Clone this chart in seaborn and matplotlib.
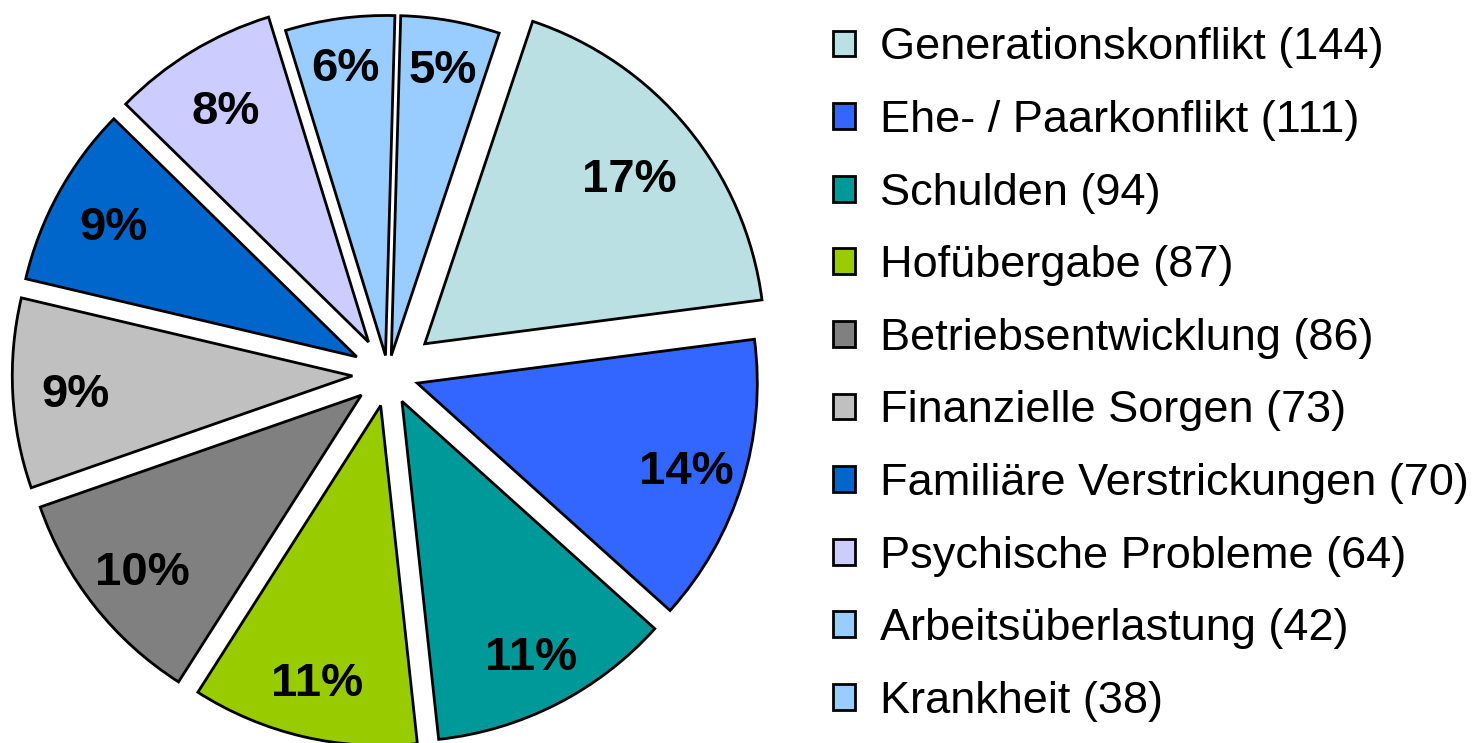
import matplotlib
matplotlib.use("Agg")
from matplotlib import pyplot as plt
import numpy as np
import seaborn as sns

# Themen der Beratungsgespräche (Anzahl der Nennungen)
categories = ["Generationskonflikt", "Ehe- / Paarkonflikt", "Schulden", "Hofübergabe",
              "Betriebsentwicklung", "Finanzielle Sorgen", "Familiäre Verstrickungen",
              "Psychische Probleme", "Arbeitsüberlastung", "Krankheit"]
counts = [144, 111, 94, 87, 86, 73, 70, 64, 42, 38]
pct_labels = ["17%", "14%", "11%", "11%", "10%", "9%", "9%", "8%", "6%", "5%"]

colors = ["#BBE0E3", "#3366FF", "#009999", "#99CC00", "#808080",
          "#C0C0C0", "#0066CC", "#CCCCFF", "#99CCFF", "#99CCFF"]
explode = [0.14, 0.09, 0.09, 0.095, 0.10, 0.105, 0.105, 0.11, 0.055, 0.055]

sns.set_theme(style="white")
plt.rcParams['font.family'] = ['Liberation Sans', 'DejaVu Sans']
plt.rcParams['text.color'] = 'black'

fig = plt.figure(figsize=(14.82, 7.43), dpi=100)
ax = fig.add_axes([0, 0, 0.5, 1])

pct_iter = iter(pct_labels)
wedges, texts, autotexts = ax.pie(
    counts, colors=colors, explode=explode, startangle=71.5, counterclock=False,
    autopct=lambda p: next(pct_iter), pctdistance=0.82,
    wedgeprops=dict(edgecolor='black', linewidth=2),
    textprops=dict(fontsize=34, fontweight='bold', color='black'))

# Excel setzt die Prozentwerte auf festen Abstand vom Kreismittelpunkt
for w, t in zip(wedges, autotexts):
    ang = np.deg2rad((w.theta1 + w.theta2) / 2)
    t.set_position((0.92 * np.cos(ang), 0.92 * np.sin(ang)))
    t.set_va('center_baseline')

ax.set_xlim(-1.141, 1.038)
ax.set_ylim(-1.085, 1.1)
ax.set_aspect('auto')

legend_labels = [f"{c} ({n})" for c, n in zip(categories, counts)]
fig.legend(wedges, legend_labels, loc='upper left', bbox_to_anchor=(0.562, 0.963),
           frameon=False, fontsize=32.5, borderpad=0, borderaxespad=0,
           handlelength=0.5, handleheight=0.5, handletextpad=0.55, labelspacing=0.70)

plt.savefig("out.png", dpi=100)
